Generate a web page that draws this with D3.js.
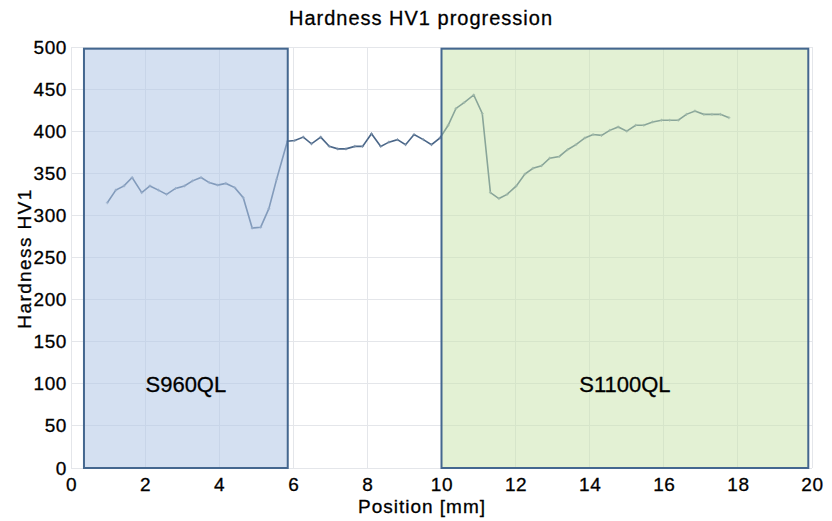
<!DOCTYPE html>
<html lang="en">
<head>
    <meta charset="UTF-8">
    <title>Hardness HV1 progression</title>
    <script type="text/javascript" src="https://cdn.jsdelivr.net/npm/d3@7/dist/d3.min.js"></script>
</head>
<style>
    body{ margin:0; background:#fff; }
    svg text{ font-family: "Liberation Sans", Arial, sans-serif; fill:#000; stroke:#000; stroke-width:0.3px; }
    .grid line{ stroke:#e4e6ea; stroke-width:1; shape-rendering: crispEdges; }
    .axis path,.axis line{ display:none; }
    .axis text{ font-size:19px; letter-spacing:0.6px; }
</style>
<body>

<script>
    var width = 832;
    var height = 521;
    var padding = {left:71, right:20, top:47, bottom:53};

    // measured points
    var position = [0.98,1.21,1.43,1.65,1.91,2.13,2.36,2.58,2.82,3.06,3.28,3.51,3.73,3.96,4.18,4.42,4.65,4.89,5.12,5.34,5.55,
                    5.84,6.04,6.27,6.49,6.74,6.97,7.2,7.42,7.66,7.87,8.11,8.36,8.58,8.81,9.03,9.26,9.51,9.73,9.96,
                    10.18,10.39,10.61,10.87,11.1,11.32,11.55,11.77,12.02,12.25,12.47,12.7,12.92,13.18,13.4,13.63,13.87,
                    14.09,14.32,14.54,14.77,15.0,15.24,15.46,15.7,15.94,16.16,16.39,16.61,16.84,17.08,17.3,17.53,17.76];
    var hardness = [315,330,335,345,327,335,330,325,332,335,341,345,339,336,338,333,321,285,286,308,343,
                    388,389,393,385,393,382,379,379,382,382,397,382,387,390,384,396,390,384,392,
                    407,427,434,443,421,327,320,325,335,349,356,359,368,370,378,384,392,
                    396,395,401,405,400,407,407,411,413,413,413,420,424,420,420,420,416];

    // material zones
    var zoneNames = ["S960QL","S1100QL"];
    var zoneStart = [0.35, 10];
    var zoneEnd = [5.85, 19.9];
    var zoneFill = ["rgba(176,198,230,0.55)","rgba(200,228,170,0.5)"];

    var xTicks = d3.range(0, 21, 2);
    var yTicks = d3.range(0, 501, 50);

    var svg = d3.select("body")
            .append("svg")
            .attr("width",width)
            .attr("height",height);

    var plotW = width - padding.left - padding.right;
    var plotH = height - padding.top - padding.bottom;

    var xScale = d3.scaleLinear().domain([0,20]).range([0, plotW]);
    var yScale = d3.scaleLinear().domain([0,500]).range([plotH, 0]);

    var g = svg.append("g")
            .attr("transform","translate(" + padding.left + "," + padding.top + ")");

    //网格
    g.append("g").attr("class","grid")
            .selectAll("line").data(yTicks).enter().append("line")
            .attr("x1",0).attr("x2",plotW)
            .attr("y1",function(d){ return yScale(d); })
            .attr("y2",function(d){ return yScale(d); });
    g.append("g").attr("class","grid")
            .selectAll("line").data(xTicks).enter().append("line")
            .attr("y1",0).attr("y2",plotH)
            .attr("x1",function(d){ return xScale(d); })
            .attr("x2",function(d){ return xScale(d); });

    //曲线
    var pts = position.map(function(p,i){ return [p, hardness[i]]; });
    var line = d3.line()
            .x(function(d){ return xScale(d[0]); })
            .y(function(d){ return yScale(d[1]); });
    g.append("path")
            .datum(pts)
            .attr("d", line)
            .attr("fill","none")
            .attr("stroke","#4a6688")
            .attr("stroke-width",1.6);
    g.selectAll(".mark").data(pts).enter().append("path")
            .attr("class","mark")
            .attr("d", function(d){
                var x = xScale(d[0]), y = yScale(d[1]);
                return "M" + (x-1.5) + "," + y + "H" + (x+1.5) + "M" + x + "," + (y-1.5) + "V" + (y+1.5);
            })
            .attr("stroke","#7d93ab")
            .attr("stroke-width",0.8);

    //区域
    g.selectAll(".zone").data(zoneNames).enter().append("rect")
            .attr("class","zone")
            .attr("x",function(d,i){ return xScale(zoneStart[i]); })
            .attr("width",function(d,i){ return xScale(zoneEnd[i]) - xScale(zoneStart[i]); })
            .attr("y", yScale(498))
            .attr("height", yScale(0) - yScale(498))
            .attr("fill",function(d,i){ return zoneFill[i]; })
            .attr("stroke","#44678f")
            .attr("stroke-width",2);
    g.selectAll(".zlabel").data(zoneNames).enter().append("text")
            .attr("x",function(d,i){ return xScale((zoneStart[i] + zoneEnd[i]) / 2); })
            .attr("y", yScale(100) + 8)
            .attr("text-anchor","middle")
            .style("font-size","22px")
            .text(function(d){ return d; });

    //坐标轴
    g.append("g").attr("class","axis")
            .attr("transform","translate(0," + plotH + ")")
            .call(d3.axisBottom(xScale).tickValues(xTicks).tickSize(0).tickPadding(10));
    g.append("g").attr("class","axis")
            .call(d3.axisLeft(yScale).tickValues(yTicks).tickSize(0).tickPadding(4));

    //标题
    svg.append("text")
            .attr("x", 421)
            .attr("y", 25)
            .attr("text-anchor","middle")
            .style("font-size","20px")
            .style("letter-spacing","1px")
            .text("Hardness HV1 progression");
    svg.append("text")
            .attr("x", 422)
            .attr("y", 513)
            .attr("text-anchor","middle")
            .style("font-size","19px")
            .style("letter-spacing","1px")
            .text("Position [mm]");
    svg.append("text")
            .attr("transform","translate(31," + (padding.top + plotH / 2 + 1) + ") rotate(-90)")
            .attr("text-anchor","middle")
            .style("font-size","19px")
            .style("letter-spacing","1.4px")
            .text("Hardness HV1");
</script>
</body>
</html>
